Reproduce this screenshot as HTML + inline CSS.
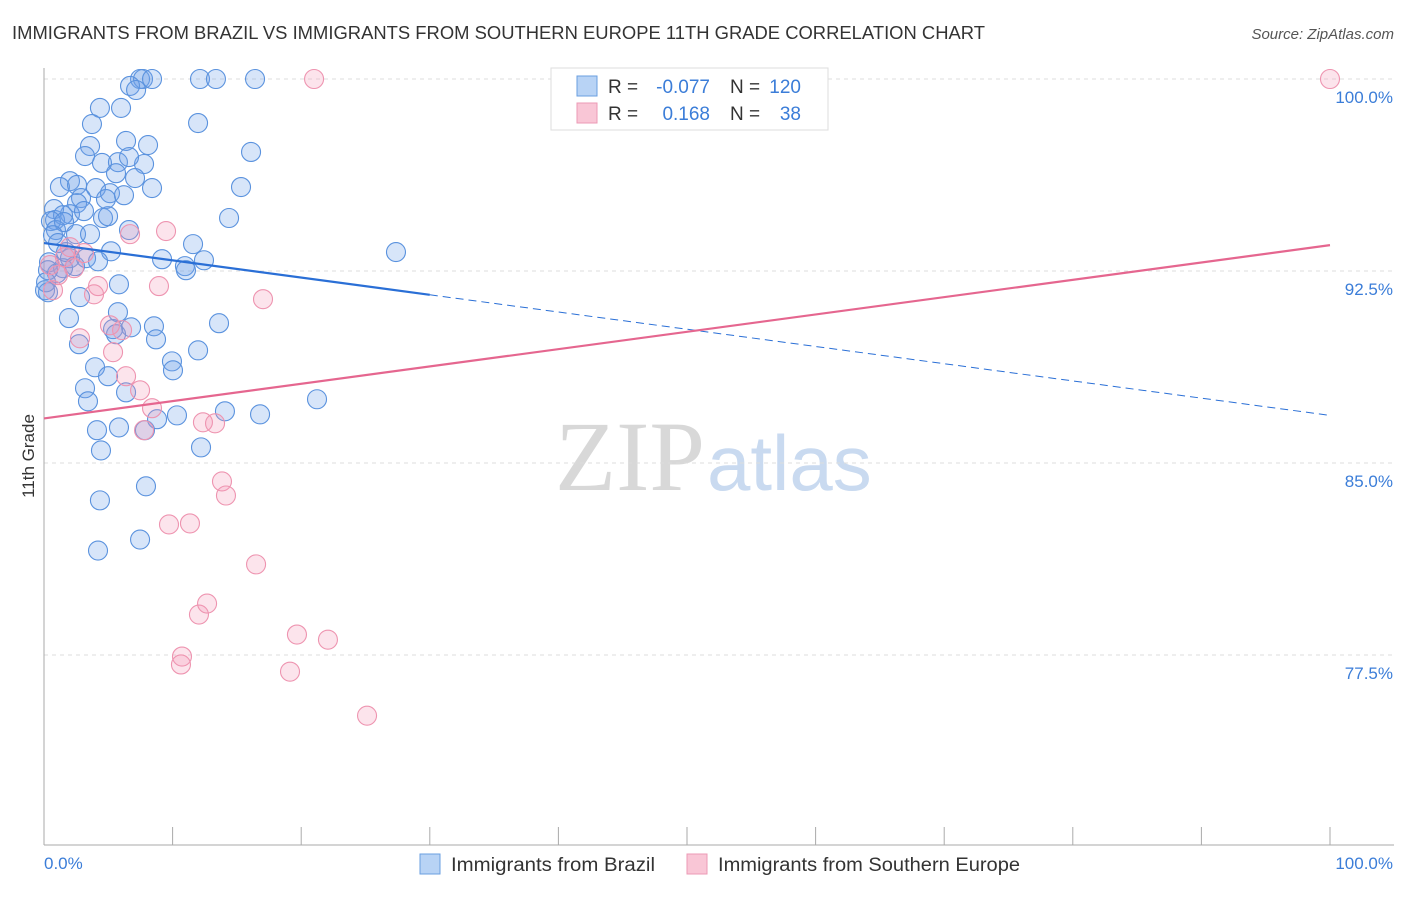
<!DOCTYPE html>
<html><head><meta charset="utf-8"><style>
body{margin:0;background:#fff;font-family:"Liberation Sans",sans-serif;}
svg text{font-family:"Liberation Sans",sans-serif;}
</style></head><body>
<svg width="1406" height="892" viewBox="0 0 1406 892" id="chart">
<text x="12" y="39" font-size="18" fill="#333" textLength="973" lengthAdjust="spacingAndGlyphs">IMMIGRANTS FROM BRAZIL VS IMMIGRANTS FROM SOUTHERN EUROPE 11TH GRADE CORRELATION CHART</text>
<text x="1394" y="39" font-size="15" fill="#555" font-style="italic" text-anchor="end">Source: ZipAtlas.com</text>
<text x="555" y="490" font-size="100" fill="#d8d8d8" font-family="Liberation Serif"><tspan fill="#d8d8d8" font-family="Liberation Serif">ZIP</tspan><tspan fill="#c9daf0" font-size="78" font-family="Liberation Sans" dx="2">atlas</tspan></text>
<g id="grid"></g><g id="axes"></g><g id="pts"></g><g id="lines"></g>
<text x="34" y="456" font-size="17" fill="#333" text-anchor="middle" transform="rotate(-90 34 456)">11th Grade</text>
<text x="44" y="869" font-size="17" fill="#3b7dd8">0.0%</text>
<text x="1393" y="869" font-size="17" fill="#3b7dd8" text-anchor="end">100.0%</text>
<g>
<rect x="551" y="68" width="277" height="62" fill="#fff" stroke="#ddd"/>
<rect x="577" y="76" width="20" height="20" fill="#b8d3f5" stroke="#6a9fe0"/>
<rect x="577" y="103" width="20" height="20" fill="#f9c6d6" stroke="#ec9ab5"/>
<text x="608" y="93" font-size="19" fill="#333">R =</text>
<text x="710" y="93" font-size="19" fill="#3b7dd8" text-anchor="end">-0.077</text>
<text x="730" y="93" font-size="19" fill="#333">N =</text>
<text x="801" y="93" font-size="19" fill="#3b7dd8" text-anchor="end">120</text>
<text x="608" y="120" font-size="19" fill="#333">R =</text>
<text x="710" y="120" font-size="19" fill="#3b7dd8" text-anchor="end">0.168</text>
<text x="730" y="120" font-size="19" fill="#333">N =</text>
<text x="801" y="120" font-size="19" fill="#3b7dd8" text-anchor="end">38</text>
</g>
<g>
<rect x="420" y="854" width="20" height="20" fill="#b8d3f5" stroke="#6a9fe0"/>
<text x="451" y="871" font-size="19" fill="#333" textLength="204" lengthAdjust="spacingAndGlyphs">Immigrants from Brazil</text>
<rect x="687" y="854" width="20" height="20" fill="#f9c6d6" stroke="#ec9ab5"/>
<text x="718" y="871" font-size="19" fill="#333" textLength="302" lengthAdjust="spacingAndGlyphs">Immigrants from Southern Europe</text>
</g>
</svg>
<script>
const yTicks=[100,92.5,85,77.5];
const yTickLabels=["100.0%","92.5%","85.0%","77.5%"];
const xTicks=[0,10,20,30,40,50,60,70,80,90,100];
const brazilX=[7.47,7.70,8.40,12.13,13.37,16.41,6.69,7.16,4.35,5.99,3.73,11.98,6.38,3.58,8.09,3.19,16.10,4.51,7.78,5.75,6.61,5.60,7.08,2.02,1.24,2.57,4.04,5.13,8.40,15.32,6.22,4.82,2.88,2.57,2.02,0.78,0.86,1.48,3.11,4.59,4.98,14.39,0.54,0.93,1.56,2.49,3.58,0.70,6.61,27.37,11.59,5.21,1.09,2.02,2.41,3.27,4.20,9.18,12.44,10.96,11.04,0.39,1.48,1.01,2.80,0.08,0.31,5.83,5.75,1.94,13.61,8.55,6.77,5.37,5.60,8.71,2.72,11.98,9.95,10.03,3.97,4.98,3.19,6.38,3.42,21.23,4.12,16.80,14.07,10.34,8.79,5.83,7.85,4.43,12.21,7.93,4.35,4.20,7.47,0.31,0.16,1.71];
const brazilY=[100,100,100,100,100,100,99.73,99.57,98.87,98.87,98.24,98.28,97.58,97.38,97.42,96.99,97.15,96.72,96.68,96.75,96.95,96.32,96.13,96.01,95.78,95.86,95.74,95.54,95.74,95.78,95.46,95.31,95.35,95.15,94.72,94.92,94.49,94.68,94.84,94.57,94.64,94.57,94.45,94.10,94.41,93.94,93.94,93.90,94.10,93.24,93.55,93.27,93.59,93.00,92.69,93.00,92.88,92.96,92.92,92.69,92.53,92.84,92.61,92.41,91.48,91.75,91.67,91.98,90.89,90.66,90.46,90.34,90.30,90.23,90.03,89.83,89.64,89.40,88.97,88.62,88.74,88.39,87.92,87.76,87.41,87.49,86.28,86.90,87.02,86.86,86.71,86.39,86.28,85.49,85.61,84.09,83.54,81.58,82.01,92.53,92.06,93.24];
const seX=[21.00,100,6.69,9.49,3.11,1.63,2.33,4.20,3.89,8.94,0.70,17.03,2.80,6.07,5.37,6.38,7.47,8.40,7.78,12.36,13.30,13.84,14.15,9.72,11.35,16.49,12.05,12.68,19.67,22.08,10.73,10.65,19.13,25.12,1.09,0.47,2.02,5.13];
const seY=[100,100,93.94,94.06,93.20,93.04,92.61,91.91,91.59,91.91,91.75,91.40,89.87,90.19,89.33,88.39,87.84,87.14,86.28,86.59,86.55,84.28,83.73,82.60,82.64,81.04,79.08,79.51,78.30,78.10,77.44,77.13,76.85,75.13,92.34,92.73,93.43,90.38];
const brazilTrend=[93.59,86.86];
const seTrend=[86.74,93.51];
const NS="http://www.w3.org/2000/svg";
const X0=44,X1=1330,Y100=79,PXPER=192/7.5;
function sx(v){return X0+(X1-X0)*v/100;}
function sy(v){return Y100+(100-v)*PXPER;}
function mk(tag,attrs,parent){const e=document.createElementNS(NS,tag);for(const k in attrs)e.setAttribute(k,attrs[k]);document.getElementById(parent).appendChild(e);return e;}
yTicks.forEach((t,i)=>{
 const l=mk('line',{x1:X0,x2:1394,y1:sy(t),y2:sy(t),stroke:'#ddd','stroke-dasharray':'4,4'},'grid');
 
 
 const tx=mk('text',{x:1393,y:sy(t)+24,'font-size':17,fill:'#3b7dd8','text-anchor':'end'},'grid');
 tx.textContent=yTickLabels[i];
 
 
});
const ya=mk('line',{x1:X0,x2:X0,y1:68,y2:845,stroke:'#aaa'},'axes');


const xa=mk('line',{x1:X0,x2:1394,y1:845,y2:845,stroke:'#aaa'},'axes');


xTicks.forEach(t=>{
 const l=mk('line',{x1:sx(t),x2:sx(t),y1:827,y2:845,stroke:'#aaa'},'axes');
 
 
});
brazilX.forEach((v,i)=>{
 const c=mk('circle',{cx:sx(v),cy:sy(brazilY[i]),r:9.5,fill:'rgba(110,160,232,0.28)',stroke:'#5a92de','stroke-width':1.1},'pts');
 
 
});
seX.forEach((v,i)=>{
 const c=mk('circle',{cx:sx(v),cy:sy(seY[i]),r:9.5,fill:'rgba(244,150,180,0.26)',stroke:'#ee94b0','stroke-width':1.1},'pts');
 
 
});
function ty(tr,x){return tr[0]+(tr[1]-tr[0])*x/100;}
const b1=mk('line',{x1:sx(0),y1:sy(ty(brazilTrend,0)),x2:sx(30),y2:sy(ty(brazilTrend,30)),stroke:'#2a6fd6','stroke-width':2.2},'lines');


const b2=mk('line',{x1:sx(30),y1:sy(ty(brazilTrend,30)),x2:sx(100),y2:sy(ty(brazilTrend,100)),stroke:'#2a6fd6','stroke-width':1,'stroke-dasharray':'8,5'},'lines');


const p1=mk('line',{x1:sx(0),y1:sy(ty(seTrend,0)),x2:sx(100),y2:sy(ty(seTrend,100)),stroke:'#e5668f','stroke-width':2.2},'lines');


</script>
</body></html>
